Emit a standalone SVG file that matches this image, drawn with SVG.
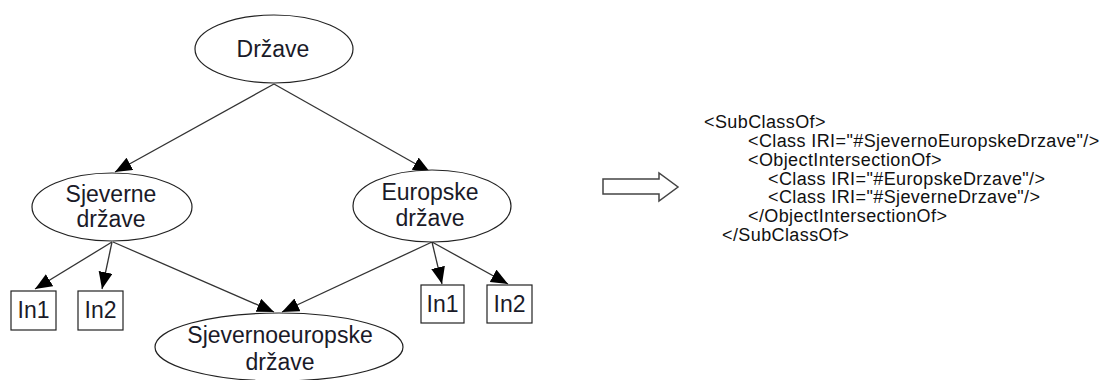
<svg xmlns="http://www.w3.org/2000/svg" width="1116" height="380" viewBox="0 0 1116 380">
<style>
.node ellipse, .node rect { fill: #fff; stroke: #222; stroke-width: 1.2; }
.lbl { font-family: "Liberation Sans", Arial, sans-serif; font-size: 23px; fill: #1a1a28; text-anchor: middle; }
.edge { stroke: #333; stroke-width: 1.3; fill: none; marker-end: url(#ah); }
.code { font-family: "Liberation Sans", Arial, sans-serif; font-size: 18px; letter-spacing: 0.4px; fill: #111; }
</style>
<defs>
<marker id="ah" markerUnits="userSpaceOnUse" markerWidth="18" markerHeight="16" refX="17" refY="7" orient="auto">
<path d="M0,0 L17,7 L0,14 z" fill="#000"/>
</marker>
</defs>
<rect width="1116" height="380" fill="#fff"/>
<g id="connectors">
<line class="edge" x1="274" y1="84" x2="115" y2="172"/>
<line class="edge" x1="274" y1="84" x2="430" y2="172"/>
<line class="edge" x1="112" y1="242" x2="35" y2="289"/>
<line class="edge" x1="112" y1="242" x2="102" y2="289"/>
<line class="edge" x1="113" y1="242" x2="274" y2="312"/>
<line class="edge" x1="432" y1="242" x2="282" y2="312"/>
<line class="edge" x1="432" y1="242" x2="442" y2="284"/>
<line class="edge" x1="432" y1="242" x2="508" y2="284"/>
</g>
<g id="drzave" class="node">
<ellipse cx="274" cy="49" rx="79" ry="34"/>
<text class="lbl" x="273" y="57">Države</text>
</g>
<g id="sjeverne" class="node">
<ellipse cx="112" cy="207" rx="80" ry="34"/>
<text class="lbl" x="111" y="202">Sjeverne</text>
<text class="lbl" x="111" y="227">države</text>
</g>
<g id="europske" class="node">
<ellipse cx="432" cy="206" rx="79" ry="36"/>
<text class="lbl" x="430" y="200">Europske</text>
<text class="lbl" x="430" y="226">države</text>
</g>
<g id="in1-left" class="node">
<rect x="11" y="291" width="45" height="39"/>
<text class="lbl" x="33.5" y="318">In1</text>
</g>
<g id="in2-left" class="node">
<rect x="78" y="291" width="45" height="39"/>
<text class="lbl" x="100.5" y="318">In2</text>
</g>
<g id="in1-right" class="node">
<rect x="421" y="285" width="43" height="38"/>
<text class="lbl" x="442.5" y="312">In1</text>
</g>
<g id="in2-right" class="node">
<rect x="487" y="285" width="45" height="38"/>
<text class="lbl" x="509.5" y="312">In2</text>
</g>
<g id="sjevernoeuropske" class="node">
<ellipse cx="279" cy="347" rx="124" ry="34"/>
<text class="lbl" x="280" y="343">Sjevernoeuropske</text>
<text class="lbl" x="280" y="370">države</text>
</g>
<g id="implies">
<polygon points="603,179 659,179 659,173 678,187 659,201 659,194 603,194" fill="#fff" stroke="#444" stroke-width="1.5"/>
</g>
<g id="owl-code">
<text class="code" x="704" y="128">&lt;SubClassOf&gt;</text>
<text class="code" x="748" y="147">&lt;Class IRI="#SjevernoEuropskeDrzave"/&gt;</text>
<text class="code" x="748" y="166">&lt;ObjectIntersectionOf&gt;</text>
<text class="code" x="768" y="185">&lt;Class IRI="#EuropskeDrzave"/&gt;</text>
<text class="code" x="768" y="203">&lt;Class IRI="#SjeverneDrzave"/&gt;</text>
<text class="code" x="748" y="222">&lt;/ObjectIntersectionOf&gt;</text>
<text class="code" x="722" y="241">&lt;/SubClassOf&gt;</text>
</g>
</svg>
